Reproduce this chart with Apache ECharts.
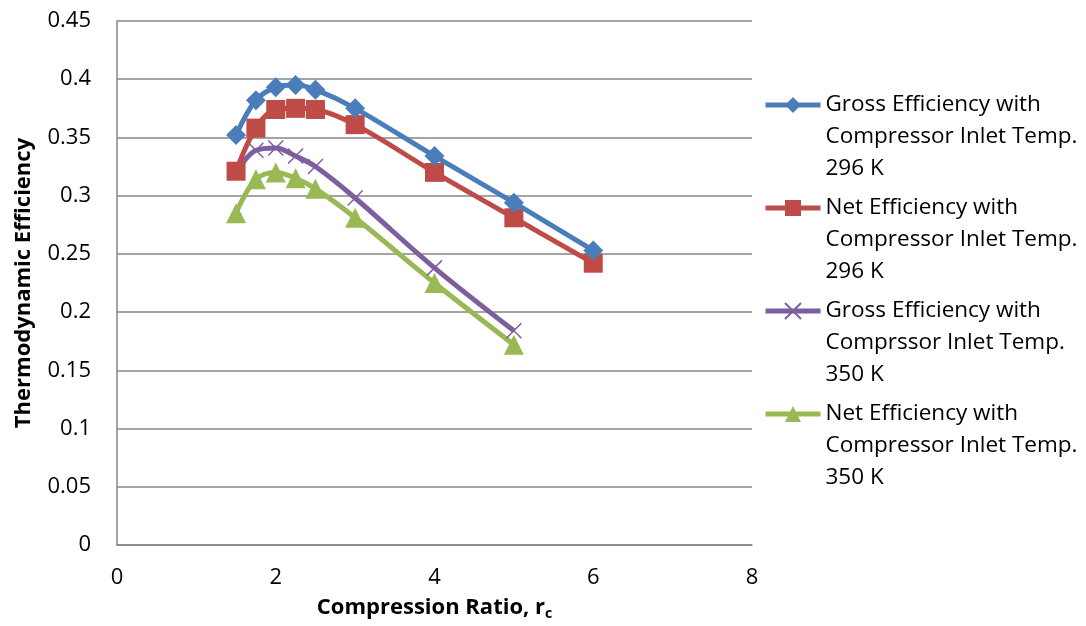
<!DOCTYPE html>
<html>
<head>
<meta charset="utf-8">
<script src="https://cdn.jsdelivr.net/npm/echarts@6/dist/echarts.min.js"></script>
<style>
  html, body { margin: 0; padding: 0; background: #fff; }
  #chart { width: 1086px; height: 626px; }
</style>
</head>
<body>
<div id="chart"></div>
<script>
// Compression ratio values for each series
const ratio296 = [1.5, 1.75, 2, 2.25, 2.5, 3, 4, 5, 6];
const ratio350 = [1.5, 1.75, 2, 2.25, 2.5, 3, 4, 5];

// Thermodynamic efficiency values
const gross296 = [0.352, 0.382, 0.393, 0.395, 0.391, 0.375, 0.334, 0.294, 0.253];
const net296   = [0.321, 0.358, 0.374, 0.375, 0.374, 0.361, 0.320, 0.281, 0.242];
const gross350 = [0.320, 0.339, 0.341, 0.334, 0.325, 0.298, 0.238, 0.184];
const net350   = [0.285, 0.314, 0.320, 0.315, 0.306, 0.281, 0.225, 0.172];

const seriesNames = [
  'Gross Efficiency with\nCompressor Inlet Temp.\n296 K',
  'Net Efficiency with\nCompressor Inlet Temp.\n296 K',
  'Gross Efficiency with\nComprssor Inlet Temp.\n350 K',
  'Net Efficiency with\nCompressor Inlet Temp.\n350 K'
];

const colors = ['#4A7EBB', '#BE4B48', '#7D5FA0', '#98B954'];

function pairs(xs, ys) { return xs.map((x, i) => [x, ys[i]]); }

const FONT = '"Open Sans", sans-serif';
const crossPath = 'path://M0,0L10,10M10,0L0,10';

function lineSeries(idx, data, symbol, size, extra) {
  return Object.assign({
    name: seriesNames[idx],
    type: 'line',
    data: data,
    smooth: 0.35,
    symbol: symbol,
    symbolSize: size,
    lineStyle: { color: colors[idx], width: 5 },
    itemStyle: { color: colors[idx] },
    z: 10 - idx
  }, extra || {});
}

const chart = echarts.init(document.getElementById('chart'), null, { renderer: 'canvas' });
chart.setOption({
  backgroundColor: '#fff',
  animation: false,
  grid: { left: 117, right: 334, top: 21, bottom: 81, containLabel: false },
  xAxis: {
    type: 'value', min: 0, max: 8, interval: 2,
    name: 'Compression Ratio, r{sub|c}',
    nameLocation: 'middle', nameGap: 50,
    nameTextStyle: {
      fontFamily: FONT, fontSize: 22, fontWeight: 'bold', color: '#000',
      rich: { sub: { fontFamily: FONT, fontSize: 14, fontWeight: 'bold', color: '#000', padding: [12, 0, 0, 0] } }
    },
    axisLine: { show: true, lineStyle: { color: '#868686', width: 1.5 } },
    axisTick: { show: false },
    splitLine: { show: false },
    axisLabel: { fontFamily: FONT, fontSize: 22, color: '#000', margin: 22 }
  },
  yAxis: {
    type: 'value', min: 0, max: 0.45, interval: 0.05,
    name: 'Thermodynamic Efficiency',
    nameLocation: 'middle', nameGap: 82,
    nameTextStyle: { fontFamily: FONT, fontSize: 22, fontWeight: 'bold', color: '#000' },
    axisLine: { show: true, lineStyle: { color: '#868686', width: 1.5 } },
    axisTick: { show: false },
    splitLine: { show: true, lineStyle: { color: '#868686', width: 1.5 } },
    axisLabel: {
      fontFamily: FONT, fontSize: 22, color: '#000', margin: 26,
      formatter: v => String(parseFloat(v.toFixed(2)))
    }
  },
  legend: {
    orient: 'vertical',
    left: 758, top: 20, height: 600,
    itemWidth: 55, itemHeight: 20, itemGap: -57,
    lineStyle: { width: 5 },
    // two leading blank lines keep the icon level with the first text line
    formatter: name => ' \n \n' + name,
    textStyle: { fontFamily: FONT, fontSize: 22.5, color: '#000', lineHeight: 32 },
    data: seriesNames
  },
  series: [
    lineSeries(0, pairs(ratio296, gross296), 'diamond', 20),
    lineSeries(1, pairs(ratio296, net296), 'rect', 19),
    lineSeries(2, pairs(ratio350, gross350), crossPath, 15, {
      itemStyle: { color: 'rgba(0,0,0,0)', borderColor: colors[2], borderWidth: 1.5 }
    }),
    lineSeries(3, pairs(ratio350, net350), 'triangle', 20)
  ]
});
</script>
</body>
</html>
